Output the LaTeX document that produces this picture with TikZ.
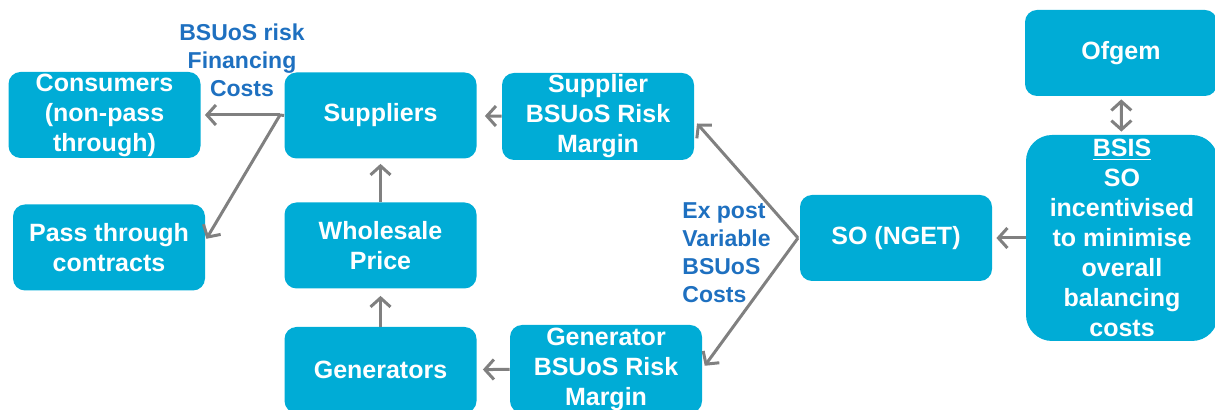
\documentclass[tikz,border=0pt]{standalone}
\usepackage{fontspec}
\setmainfont{Liberation Sans}
\usetikzlibrary{arrows.meta}
\definecolor{boxblue}{RGB}{0,172,214}
\definecolor{notetext}{RGB}{30,112,192}
\definecolor{flowgray}{RGB}{128,128,128}
\newcommand{\riskmargin}{BSUoS Risk\\Margin}

\begin{document}
\begin{tikzpicture}[x=0.5pt, y=-0.5pt,
    box/.style={draw=none, fill=boxblue, text=white, rounded corners=6pt,
        minimum width=96pt, minimum height=43pt, inner sep=0pt, align=center,
        font=\bfseries\fontsize{12.5}{15}\selectfont},
    note/.style={text=notetext, inner sep=0pt,
        font=\bfseries\fontsize{11.5}{14}\selectfont},
    flow/.style={draw=flowgray, line width=1.5pt,
        -{Straight Barb[length=4.5pt, width=10pt]}},
    both/.style={flow, {Straight Barb[length=4.5pt, width=10pt]}-{Straight Barb[length=4.5pt, width=10pt]}}]
    \path[use as bounding box, clip] (0,0) rectangle (1215,410);

    \node[box] (cons) at (104.5,115) {Consumers\\(non-pass\\through)};
    \node[box] (pass) at (109,247.5) {Pass through\\contracts};
    \node[box] (supp) at (380.5,115.5) {Suppliers};
    \node[box] (whole) at (380.5,245.5) {Wholesale\\Price};
    \node[box, minimum height=43pt] (gens) at (380.5,370) {Generators};
    \node[box, minimum height=43.5pt] (supm) at (598,116.5) {Supplier\\\riskmargin};
    \node[box, minimum height=44pt] (genm) at (606,369) {Generator\\\riskmargin};
    \node[box] (so) at (896,238) {SO (NGET)};
    \node[box] (ofgem) at (1121,53) {Ofgem};
    \node[box, minimum height=103pt, rounded corners=13pt] (bsis) at (1122,238)
        {\underline{BSIS}\\SO\\incentivised\\to minimise\\overall\\balancing\\costs};

    \node[note, align=center] (fin) at (242,60) {BSUoS risk\\Financing\\Costs};
    \node[note, align=left, anchor=west] (expost) at (682,253) {Ex post\\Variable\\BSUoS\\Costs};

    \coordinate (split) at (280,115);
    \coordinate (fork) at (798,238);

    \draw[flowgray, line width=1.5pt] (supp.west) -- (split);
    \draw[flow, shorten >=2pt] (split) -- (cons.east);
    \draw[flow, shorten >=1pt] (split) -- ([yshift=3.5pt]pass.east);
    \draw[flow, shorten >=4pt] (supm) -- (supp);
    \draw[flow, shorten >=2.5pt] (whole) -- (supp);
    \draw[flow, shorten >=3.5pt] (gens) -- (whole);
    \draw[flow, shorten >=3pt] (genm) -- (gens);
    \draw[flow, shorten >=2pt] (fork) -- ([yshift=-2pt]supm.east);
    \draw[flow, shorten >=2pt] (fork) -- (genm.east);
    \draw[flow, shorten >=2pt] (bsis) -- (so);
    \draw[both, shorten >=1.5pt, shorten <=1.5pt] (ofgem) -- (bsis);
\end{tikzpicture}
\end{document}
